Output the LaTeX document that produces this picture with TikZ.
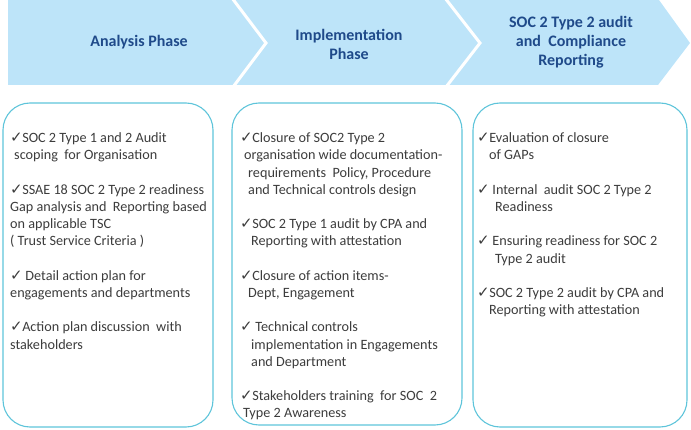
\documentclass[tikz,border=0pt]{standalone}
\usepackage{fontspec}
\setmainfont{Carlito}
\newfontfamily\dejavu{DejaVu Sans}
\definecolor{bandblue}{HTML}{BDE4F9}
\definecolor{headblue}{HTML}{1F4A8A}
\definecolor{bodygray}{HTML}{3C3C3C}
\definecolor{boxcyan}{HTML}{5EC4DA}
\newcommand{\ck}{{\dejavu\fontsize{15}{15}\selectfont\raisebox{0.3pt}{✓}}\hspace{-0.5pt}}
\newcommand{\ind}[1]{\hspace*{#1pt}}
\begin{document}
\begin{tikzpicture}[x=1pt,y=-1pt,
  head/.style={font=\fontsize{16}{19}\selectfont\bfseries, text=headblue, align=center, inner sep=0pt},
  panel/.style={draw=boxcyan, line width=1.1pt, rounded corners=27pt, inner sep=0pt},
  body/.style={font=\fontsize{14.2}{17.2}\selectfont, text=bodygray, align=left, inner sep=0pt, anchor=north west}]
\useasboundingbox (0,0) rectangle (691,430);
\fill[bandblue] (8,0) -- (659,0) -- (690,43) -- (658,85) -- (8,85) -- cycle;
\draw[white, line width=3pt] (232,-2) -- (266,43) -- (233,87);
\draw[white, line width=3pt] (445,-2) -- (480,43) -- (446,87);
\node[head] (h1) at (139,42) {Analysis Phase};
\node[head] (h2) at (349,44) {Implementation\\Phase};
\node[head] (h3) at (571,42) {SOC 2 Type 2 audit\\and\ \ Compliance\\Reporting};
\node[panel, minimum width=210pt, minimum height=324pt] (b1) at (108,265) {};
\node[panel, minimum width=230pt, minimum height=322pt] (b2) at (347,264) {};
\node[panel, minimum width=214pt, minimum height=324pt] (b3) at (580,265) {};
\node[body] (t1) at (10,130.5) {\strut\ck SOC 2 Type 1 and 2 Audit\\
\ind{4}scoping\ \ for Organisation\\[17.2pt]
\ck SSAE 18 SOC 2 Type 2 readiness\\
Gap analysis and\ \ Reporting based\\
on applicable TSC\\
( Trust Service Criteria )\\[17.2pt]
\ck\ Detail action plan for\\
engagements and departments\\[17.2pt]
\ck Action plan discussion\ \ with\\
stakeholders};
\node[body] (t2) at (240,130.5) {\strut\ck Closure of SOC2 Type 2\\
\ind{4}organisation wide documentation-\\
\ind{8}requirements\ \ Policy, Procedure\\
\ind{8}and Technical controls design\\[17.2pt]
\ck SOC 2 Type 1 audit by CPA and\\
\ind{11}Reporting with attestation\\[17.2pt]
\ck Closure of action items-\\
\ind{8}Dept, Engagement\\[17.2pt]
\ck\ Technical controls\\
\ind{11}implementation in Engagements\\
\ind{11}and Department\\[17.2pt]
\ck Stakeholders training\ \ for SOC\ \ 2\\
\ind{3}Type 2 Awareness};
\node[body] (t3) at (477,130.5) {\strut\ck Evaluation of closure\\
\ind{12}of GAPs\\[17.2pt]
\ck\ Internal\ \ audit SOC 2 Type 2\\
\ind{18}Readiness\\[17.2pt]
\ck\ Ensuring readiness for SOC 2\\
\ind{18}Type 2 audit\\[17.2pt]
\ck SOC 2 Type 2 audit by CPA and\\
\ind{12}Reporting with attestation};
\end{tikzpicture}
\end{document}
